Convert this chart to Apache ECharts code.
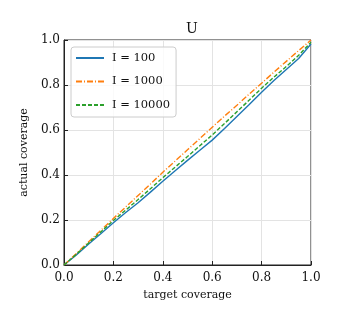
<!DOCTYPE html>
<html><head><meta charset="utf-8">
<script src="https://cdn.jsdelivr.net/npm/echarts@6/dist/echarts.min.js"></script>
<style>html,body{margin:0;padding:0;background:#fff}#c{width:348px;height:331px}</style>
</head><body><div id="c"></div>
<script>
const target = [0,0.05,0.1,0.15,0.2,0.25,0.3,0.35,0.4,0.45,0.5,0.55,0.6,0.65,0.7,0.75,0.8,0.85,0.9,0.95,1.0];
const i100 = [0,0.045,0.093,0.14,0.188,0.233,0.277,0.324,0.372,0.419,0.465,0.51,0.555,0.607,0.66,0.713,0.768,0.82,0.869,0.918,0.982];
const i1000 = [0,0.051,0.103,0.155,0.207,0.258,0.309,0.36,0.412,0.462,0.512,0.562,0.612,0.662,0.71,0.76,0.808,0.857,0.905,0.953,1.0];
const i10000 = [0,0.048,0.098,0.148,0.198,0.244,0.291,0.339,0.388,0.435,0.482,0.53,0.578,0.629,0.681,0.733,0.786,0.835,0.882,0.932,0.99];
const seriesNames = ['I = 100','I = 1000','I = 10000'];
const F = 'DejaVu Serif';
const pair = a => target.map((x,i)=>[x,a[i]]);
const chart = echarts.init(document.getElementById('c'));
const axisCommon = {
  type:'value', min:0, max:1, interval:0.2,
  axisLine:{show:true, onZero:false, lineStyle:{color:'#222', width:1}},
  axisTick:{show:true, inside:true, length:4, lineStyle:{color:'#222'}},
  splitLine:{show:true, lineStyle:{color:'#e3e3e3', width:1}},
  axisLabel:{fontFamily:F, fontSize:12, color:'#111', formatter:v=>v.toFixed(1)},
  nameTextStyle:{fontFamily:F, fontSize:11, color:'#111'}
};
chart.setOption({
  animation:false,
  title:{text:'U', left:187, textAlign:'center', top:17, textStyle:{fontFamily:F, fontSize:14, fontWeight:'normal', color:'#111'}},
  grid:{left:64, right:37, top:40, bottom:66, show:true, borderColor:'#222', borderWidth:1},
  xAxis:Object.assign({}, axisCommon, {name:'target coverage', nameLocation:'middle', nameGap:25, axisLabel:Object.assign({}, axisCommon.axisLabel, {margin:7})}),
  yAxis:Object.assign({}, axisCommon, {name:'actual coverage', nameLocation:'middle', nameGap:30, axisLabel:Object.assign({}, axisCommon.axisLabel, {margin:4})}),
  legend:{
    orient:'vertical', left:71, top:47, itemWidth:28, itemHeight:8, itemGap:11.5,
    padding:[5,6,6,4], borderColor:'#ccc', borderWidth:1, borderRadius:3, backgroundColor:'rgba(255,255,255,0.8)',
    itemStyle:{opacity:0},
    textStyle:{fontFamily:F, fontSize:11.5, color:'#111', padding:[0,0,0,3]},
    data:seriesNames
  },
  series:[
    {name:seriesNames[0], type:'line', symbol:'none', data:pair(i100), lineStyle:{color:'#1f77b4', width:1.4}, itemStyle:{color:'#1f77b4'}, z:3},
    {name:seriesNames[1], type:'line', symbol:'none', data:pair(i1000), lineStyle:{color:'#ff7f0e', width:1.4, type:[6,2,1,2]}, itemStyle:{color:'#ff7f0e'}, z:4},
    {name:seriesNames[2], type:'line', symbol:'none', data:pair(i10000), lineStyle:{color:'#2ca02c', width:1.4, type:[4,2]}, itemStyle:{color:'#2ca02c'}, z:5}
  ]
});
</script></body></html>
